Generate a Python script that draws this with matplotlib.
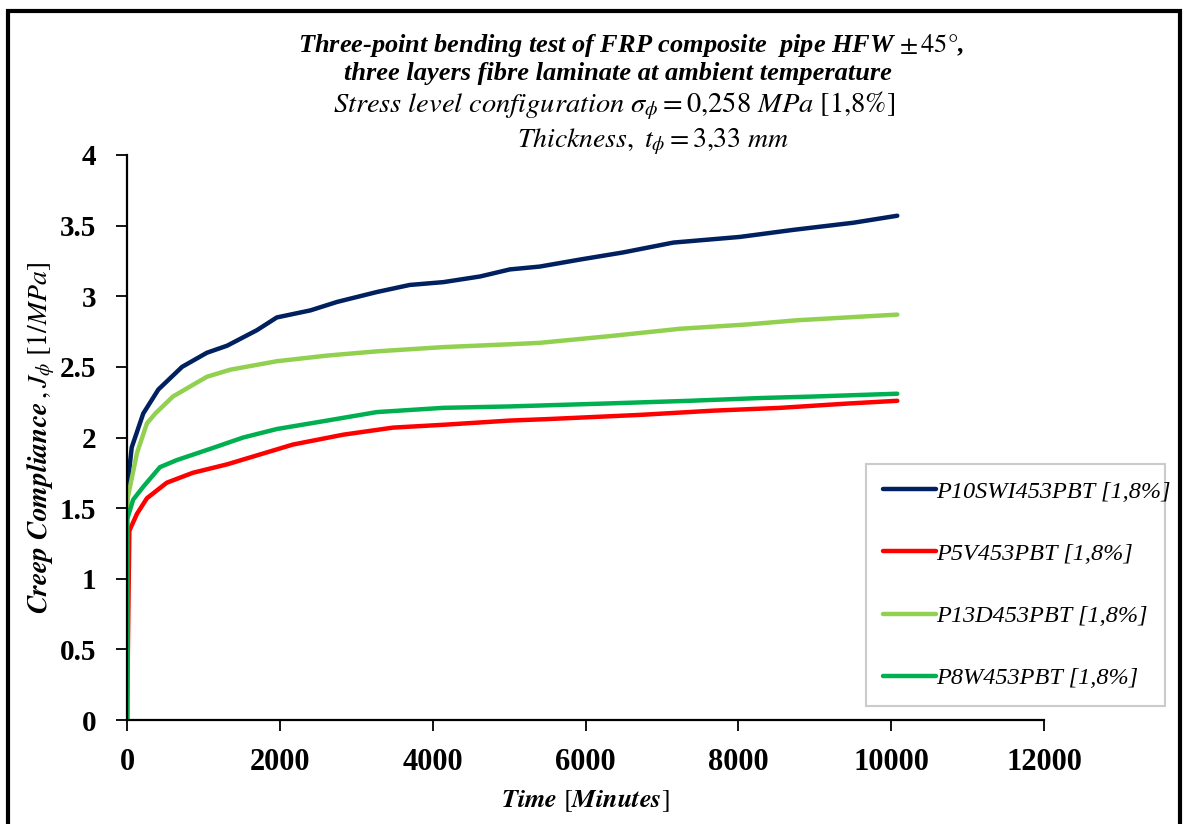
import matplotlib
matplotlib.use("Agg")
import matplotlib.pyplot as plt
from matplotlib.patches import Rectangle

plt.rcParams['mathtext.fontset'] = 'stix'

# time in minutes, creep compliance in 1/MPa
t_navy = [0, 0, 61, 212, 410, 720, 1045, 1310, 1700, 1960, 2400, 2750, 3270, 3700, 4140,
          4620, 5010, 5400, 5930, 6490, 7150, 8020, 8720, 9500, 10080]
j_navy = [0, 1.63, 1.93, 2.17, 2.34, 2.50, 2.60, 2.65, 2.76, 2.85, 2.90, 2.96, 3.03, 3.08, 3.10,
          3.14, 3.19, 3.21, 3.26, 3.31, 3.38, 3.42, 3.47, 3.52, 3.57]

t_red = [0, 30, 130, 260, 520, 860, 1310, 1740, 2170, 2830, 3480, 4140, 5010, 5490,
         6710, 7670, 8550, 9420, 10080]
j_red = [0, 1.34, 1.46, 1.57, 1.68, 1.75, 1.81, 1.88, 1.95, 2.02, 2.07, 2.09, 2.12, 2.13,
         2.16, 2.19, 2.21, 2.24, 2.26]

t_lgreen = [0, 0, 130, 260, 370, 600, 1045, 1350, 1960, 2620, 3270, 4140, 5010, 5400,
            6360, 7240, 8110, 8770, 9420, 10080]
j_lgreen = [0, 1.55, 1.89, 2.10, 2.17, 2.29, 2.43, 2.48, 2.54, 2.58, 2.61, 2.64, 2.66, 2.67,
            2.72, 2.77, 2.80, 2.83, 2.85, 2.87]

t_green = [0, 0, 80, 210, 430, 650, 1090, 1520, 1960, 2620, 3270, 4140, 5010, 6230,
           7370, 8320, 8980, 10080]
j_green = [0, 1.42, 1.56, 1.65, 1.79, 1.84, 1.92, 2.00, 2.06, 2.12, 2.18, 2.21, 2.22, 2.24,
           2.26, 2.28, 2.29, 2.31]

labels = ['P10SWI453PBT [1,8%]', 'P5V453PBT [1,8%]', 'P13D453PBT [1,8%]', 'P8W453PBT [1,8%]']
colors = ['#002060', '#FF0000', '#92D050', '#00B050']

fig = plt.figure(figsize=(11.83, 8.24), dpi=100)
ax = fig.add_axes([0.1074, 0.1262, 0.7751, 0.6857])

series = [(t_navy, j_navy), (t_red, j_red), (t_lgreen, j_lgreen), (t_green, j_green)]
handles = []
for (t, j), c, lab in zip(series, colors, labels):
    h, = ax.plot(t, j, color=c, lw=3.2, label=lab, solid_capstyle='round')
    handles.append(h)

ax.set_xlim(0, 12000)
ax.set_ylim(0, 4)
ax.set_xticks(range(0, 12001, 2000))
ax.set_yticks([0, 0.5, 1, 1.5, 2, 2.5, 3, 3.5, 4])
ax.set_yticklabels(['0', '0.5', '1', '1.5', '2', '2.5', '3', '3.5', '4'])
for s in ['top', 'right']:
    ax.spines[s].set_visible(False)
for s in ['left', 'bottom']:
    ax.spines[s].set_linewidth(1.6)
ax.tick_params(axis='y', direction='out', length=8, width=1.3, pad=14)
ax.tick_params(axis='x', direction='out', length=8, width=1.3, pad=12)
for lab in ax.get_yticklabels():
    lab.set_fontfamily('Liberation Serif')
    lab.set_fontweight('bold')
    lab.set_fontsize(21)
for lab in ax.get_xticklabels():
    lab.set_fontfamily('Liberation Serif')
    lab.set_fontweight('bold')
    lab.set_fontsize(22)

ax.set_xlabel(r'$\mathbfit{Time}\ [\mathbfit{Minutes}]$', fontsize=19, labelpad=8)
ax.set_ylabel(r'$\mathbfit{Creep\ Compliance}\,,J_{\phi}\ [1/MPa]$', fontsize=20, labelpad=2)

fig.text(0.533, 0.945, 'Three-point bending test of FRP composite  pipe HFW $\\pm\\,45°$,',
         ha='center', va='center', fontsize=19, fontweight='bold', style='italic',
         family='Liberation Serif')
fig.text(0.522, 0.911, 'three layers fibre laminate at ambient temperature',
         ha='center', va='center', fontsize=19, fontweight='bold', style='italic',
         family='Liberation Serif')
fig.text(0.519, 0.871, r'$Stress\ level\ configuration\ \sigma_{\phi} = 0{,}258\ MPa\ [1{,}8\%]$',
         ha='center', va='center', fontsize=20.5)
fig.text(0.552, 0.828, r'$Thickness,\ t_{\phi} = 3{,}33\ mm$',
         ha='center', va='center', fontsize=20)

leg = fig.legend(handles=handles, loc='lower left',
                 bbox_to_anchor=(0.732, 0.143, 0.253, 0.311), mode='expand',
                 prop={'family': 'Liberation Serif', 'style': 'italic', 'size': 17.5},
                 frameon=True, fancybox=False, borderaxespad=0, labelspacing=1.65,
                 handlelength=2.2, handletextpad=0.0, borderpad=0.7)
leg.get_frame().set_edgecolor('#BFBFBF')
leg.get_frame().set_linewidth(1.5)
for line in leg.get_lines():
    line.set_linewidth(3.2)

fig.patches.append(Rectangle((8 / 1183, -0.05), (1180 - 8) / 1183, 1.05 - 11 / 824,
                             transform=fig.transFigure, fill=False, edgecolor='black',
                             lw=3, clip_on=False))

fig.savefig('out.png', dpi=100)
